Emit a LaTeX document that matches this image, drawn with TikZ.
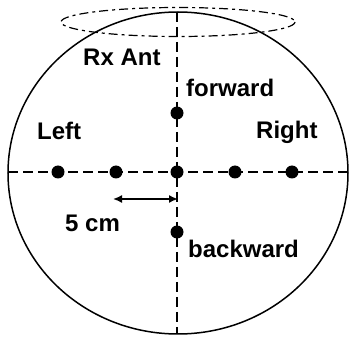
\documentclass[tikz,border=0pt]{standalone}
\usepackage{fontspec}
\setmainfont{Liberation Sans}
\usetikzlibrary{arrows.meta}
\begin{document}
\begin{tikzpicture}[x=1pt,y=-1pt,
  lbl/.style={font=\fontsize{24}{24}\selectfont\bfseries, inner sep=0pt, anchor=base west},
  dot/.style={circle, fill=black, minimum size=13pt, inner sep=0pt},
  dline/.style={dash pattern=on 10pt off 5pt, line width=1.5pt}]
\useasboundingbox (0,0) rectangle (349,337);
\draw[line width=1.5pt] (178,173) ellipse [x radius=170, y radius=161];
\draw[line width=1.2pt, dash pattern=on 9pt off 4pt on 3pt off 4pt] (178,22) ellipse [x radius=117, y radius=14.5];
\coordinate (top) at (177,12);
\coordinate (bot) at (177,334);
\coordinate (lft) at (8,172);
\coordinate (rgt) at (348,172);
\draw[dline] (top) -- (bot);
\draw[dline] (lft) -- (rgt);
\node[dot] (l2) at (58,172) {};
\node[dot] (l1) at (116,172) {};
\node[dot] (c) at (177,172) {};
\node[dot] (r1) at (235,172) {};
\node[dot] (r2) at (292,172) {};
\node[dot] (f) at (177,113) {};
\node[dot] (b) at (177,232) {};
\coordinate (a1) at (113,199);
\coordinate (a2) at (178,199);
\draw[line width=1.6pt, {Latex[length=9pt,width=8pt]}-{Latex[length=9pt,width=8pt]}] (a1) -- (a2);
\node[lbl] (rx) at (83,66) {Rx Ant};
\node[lbl] (fw) at (186,97) {forward};
\node[lbl] (lt) at (37,140) {Left};
\node[lbl] (rt) at (256,139) {Right};
\node[lbl] (cm) at (65,232) {5 cm};
\node[lbl] (bw) at (188,258) {backward};
\end{tikzpicture}
\end{document}
